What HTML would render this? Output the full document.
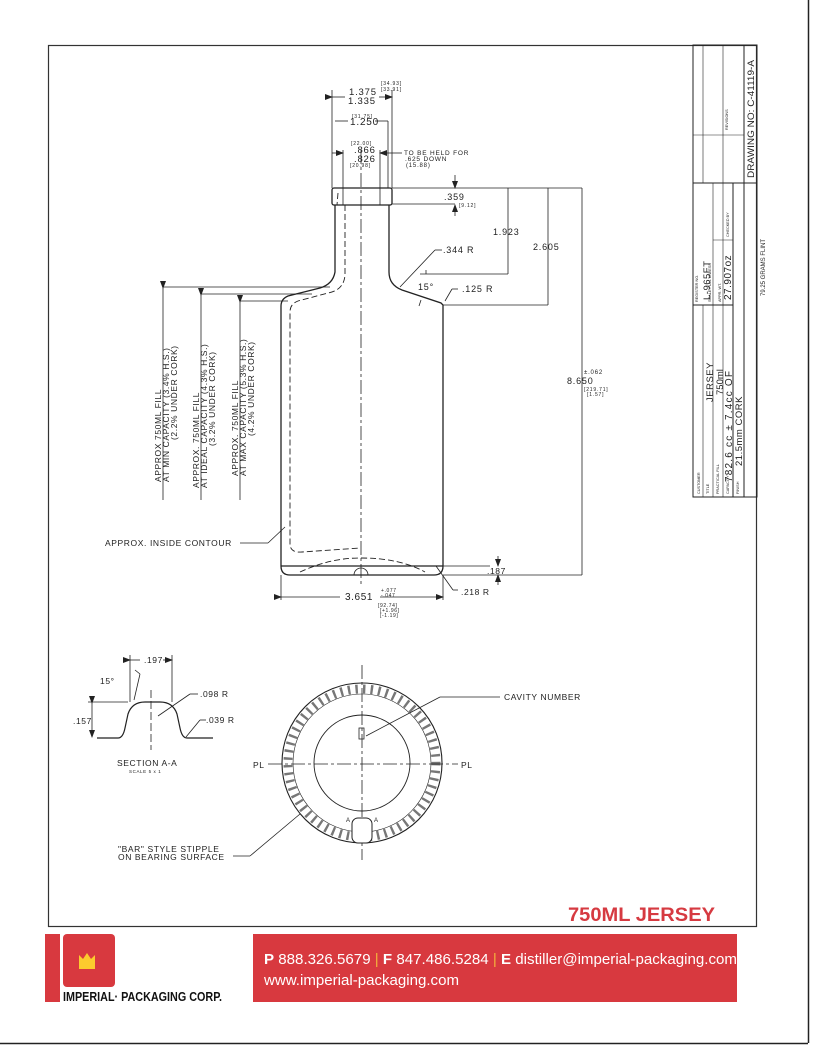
<!DOCTYPE html>
<html><head><meta charset="utf-8"><style>
html,body{margin:0;padding:0;background:#fff;}
body{width:813px;height:1047px;position:relative;overflow:hidden;font-family:"Liberation Sans",sans-serif;}
svg text{font-family:"Liberation Sans",sans-serif;fill:#222;}
</style></head><body>
<svg width="813" height="1047" viewBox="0 0 813 1047" xmlns="http://www.w3.org/2000/svg" style="position:absolute;left:0;top:0">
<defs>
<marker id="ar" markerWidth="8" markerHeight="6" refX="7" refY="3" orient="auto" markerUnits="userSpaceOnUse"><path d="M0,0 L8,3 L0,6 z" fill="#222"/></marker>
</defs>
<line x1="808.5" y1="0" x2="808.5" y2="1043" stroke="#222" stroke-width="1.5"/>
<line x1="0" y1="1043.5" x2="808" y2="1043.5" stroke="#222" stroke-width="1.5"/>
<rect x="48.5" y="45.5" width="708" height="881" fill="none" stroke="#333" stroke-width="1.2"/>

<!-- title block -->
<g stroke="#222" fill="none" stroke-width="1">
<rect x="693" y="45" width="64" height="452"/>
<line x1="744" y1="45" x2="744" y2="497"/>
<line x1="693" y1="183" x2="757" y2="183"/>
<line x1="693" y1="305" x2="733" y2="305"/>
<line x1="733" y1="183" x2="733" y2="497"/>
</g>
<g stroke="#222" fill="none" stroke-width=".6">
<line x1="703" y1="305" x2="703" y2="497"/>
<line x1="713" y1="183" x2="713" y2="497"/>
<line x1="723" y1="183" x2="723" y2="497"/>
<line x1="703" y1="45" x2="703" y2="183"/>
<line x1="723" y1="45" x2="723" y2="183"/>
<line x1="693" y1="135" x2="744" y2="135"/>
<line x1="713" y1="240" x2="733" y2="240"/>
</g>
<g font-size="3.8" fill="#333">
<text transform="translate(700,494) rotate(-90)">CUSTOMER</text>
<text transform="translate(709,494) rotate(-90)">TITLE</text>
<text transform="translate(719,494) rotate(-90)">PRACTICAL FILL</text>
<text transform="translate(729,494) rotate(-90)">CAPACITY</text>
<text transform="translate(739,494) rotate(-90)">FINISH</text>
<text transform="translate(698,302) rotate(-90)">REGISTER NO.</text>
<text transform="translate(711,302) rotate(-90)">SCALE FULL UNLESS</text>
<text transform="translate(721,302) rotate(-90)">APPR. WT.</text>
<text transform="translate(729,237) rotate(-90)">CHECKED BY</text>
<text transform="translate(728,130) rotate(-90)">REVISIONS</text>
</g>
<g fill="#333">
<text transform="translate(710,300) rotate(-90)" font-size="9.5" letter-spacing=".5">L-965FT</text>
<text transform="translate(731,300) rotate(-90)" font-size="10" letter-spacing=".5">27.907oz</text>
<text transform="translate(713,402) rotate(-90)" font-size="9.5" letter-spacing=".5">JERSEY</text>
<text transform="translate(723,395) rotate(-90)" font-size="9.5">750ml</text>
<text transform="translate(732,482) rotate(-90)" font-size="10" letter-spacing="1.2">782.6 cc ± 7.4cc OF</text>
<text transform="translate(742,466) rotate(-90)" font-size="9.5" letter-spacing=".5">21.5mm CORK</text>
<text transform="translate(754,178) rotate(-90)" font-size="9.5" textLength="118" lengthAdjust="spacingAndGlyphs">DRAWING NO: C-41119-A</text>
<text transform="translate(765,296) rotate(-90)" font-size="6">79.25 GRAMS FLINT</text>
</g>

<!-- bottle -->
<g stroke="#222" fill="none" stroke-width="1.3">
<rect x="332" y="188" width="60" height="17" rx="2"/>
<path d="M335,205 L335,272 Q333,284 320,288 L288,296 Q281,299 281,306 L281,566 Q281,575 290,575 L434,575 Q443,575 443,566 L443,305 L441,303 L402,290 Q389,285 389,272 L389,205"/>
<line x1="281" y1="566" x2="443" y2="566"/>
</g>
<g stroke="#222" fill="none" stroke-width=".9" stroke-dasharray="6,3">
<path d="M345,205 L345,275 Q344,290 328,293 L298,301 Q290,304 290,312 L290,545 Q291,553 302,552 L360,548"/>
<path d="M300,572 Q330,558 360,558 Q400,558 425,572"/>
<line x1="338" y1="193" x2="337" y2="205"/>
</g>
<line x1="361" y1="150" x2="361" y2="585" stroke="#222" stroke-width=".8" stroke-dasharray="14,3,3,3"/>
<path d="M354,575 A7,7 0 0 1 368,575" stroke="#222" fill="none" stroke-width=".8"/>

<g stroke="#222" stroke-width=".8" fill="none">
<line x1="332" y1="188" x2="332" y2="90"/><line x1="392" y1="188" x2="392" y2="90"/>
<line x1="332" y1="97" x2="345" y2="97" marker-start="url(#ar)"/>
<line x1="379" y1="97" x2="392" y2="97" marker-end="url(#ar)"/>
<line x1="388" y1="121" x2="388" y2="188"/>
<line x1="335" y1="121" x2="348" y2="121"/>
<line x1="375" y1="121" x2="388" y2="121"/>
<line x1="343" y1="150" x2="343" y2="205"/>
<line x1="380" y1="150" x2="380" y2="205"/>
<line x1="332" y1="153" x2="343" y2="153" marker-end="url(#ar)"/>
<line x1="392" y1="153" x2="380" y2="153" marker-end="url(#ar)"/>
<line x1="392" y1="153" x2="402" y2="153"/>
<line x1="392" y1="188" x2="582" y2="188"/>
<line x1="392" y1="204" x2="455" y2="204"/>
<line x1="455" y1="175" x2="455" y2="188" marker-end="url(#ar)"/>
<line x1="455" y1="216" x2="455" y2="205" marker-end="url(#ar)"/>
<line x1="508" y1="188" x2="508" y2="274"/>
<line x1="420" y1="274" x2="508" y2="274"/>
<line x1="548" y1="188" x2="548" y2="305"/>
<line x1="443" y1="305" x2="548" y2="305"/>
<line x1="582" y1="188" x2="582" y2="575"/>
<line x1="443" y1="575" x2="582" y2="575"/>
<line x1="400" y1="287" x2="435" y2="250"/><line x1="435" y1="250" x2="442" y2="250"/>
<line x1="445" y1="301" x2="452" y2="289"/><line x1="452" y1="289" x2="458" y2="289"/>
<line x1="426" y1="270" x2="426" y2="274"/>
<line x1="421" y1="300" x2="419" y2="306"/>
</g>
<g font-size="9" fill="#333" letter-spacing=".8">
<text x="349" y="95" font-size="9.5">1.375</text>
<text x="348" y="104" font-size="9.5">1.335</text>
<text x="381" y="85" font-size="5">[34.93]</text><text x="381" y="91" font-size="5">[33.91]</text>
<text x="352" y="118" font-size="5">[31.75]</text>
<text x="350" y="125" font-size="10">1.250</text>
<text x="351" y="145" font-size="5">[22.00]</text>
<text x="354" y="153" font-size="9.5">.866</text>
<text x="354" y="162" font-size="9.5">.826</text>
<text x="350" y="167" font-size="5">[20.98]</text>
<text x="404" y="155" font-size="6.5">TO BE HELD FOR</text>
<text x="405" y="161" font-size="6.5">.625 DOWN</text>
<text x="406" y="167" font-size="6">(15.88)</text>
<text x="444" y="200">.359</text>
<text x="459" y="207" font-size="5">[9.12]</text>
<text x="493" y="235">1.923</text>
<text x="533" y="250">2.605</text>
<text x="443" y="253">.344 R</text>
<text x="462" y="292">.125 R</text>
<text x="418" y="290">15°</text>
<text x="584" y="374" font-size="6">±.062</text>
<text x="567" y="384">8.650</text>
<text x="584" y="391" font-size="5">[219.71]</text>
<text x="587" y="396" font-size="5">[1.57]</text>
</g>

<g stroke="#222" stroke-width=".8" fill="none">
<line x1="163" y1="287" x2="330" y2="287"/>
<line x1="201" y1="294" x2="312" y2="294"/>
<line x1="240" y1="301" x2="288" y2="301"/>
<line x1="163" y1="288" x2="163" y2="500" marker-start="url(#ar)"/>
<line x1="201" y1="295" x2="201" y2="500" marker-start="url(#ar)"/>
<line x1="240" y1="302" x2="240" y2="500" marker-start="url(#ar)"/>
<line x1="240" y1="543" x2="268" y2="543"/><line x1="268" y1="543" x2="285" y2="527"/>
<line x1="281" y1="575" x2="281" y2="600"/><line x1="443" y1="575" x2="443" y2="600"/>
<line x1="281" y1="597" x2="340" y2="597" marker-start="url(#ar)"/>
<line x1="380" y1="597" x2="443" y2="597" marker-end="url(#ar)"/>
<line x1="443" y1="566" x2="490" y2="566"/>
<line x1="498" y1="556" x2="498" y2="566" marker-end="url(#ar)"/>
<line x1="498" y1="585" x2="498" y2="575" marker-end="url(#ar)"/>
<line x1="436" y1="566" x2="453" y2="590"/><line x1="453" y1="590" x2="458" y2="590"/>
</g>
<g font-size="8.5" fill="#333" letter-spacing=".6">
<text transform="translate(161,482) rotate(-90)">APPROX 750ML FILL</text>
<text transform="translate(169,482) rotate(-90)">AT MIN CAPACITY (3.4% H.S.)</text>
<text transform="translate(177,440) rotate(-90)">(2.2% UNDER CORK)</text>
<text transform="translate(199,488) rotate(-90)">APPROX. 750ML FILL</text>
<text transform="translate(207,488) rotate(-90)">AT IDEAL CAPACITY (4.3% H.S.)</text>
<text transform="translate(215,446) rotate(-90)">(3.2% UNDER CORK)</text>
<text transform="translate(238,476) rotate(-90)">APPROX. 750ML FILL</text>
<text transform="translate(246,476) rotate(-90)">AT MAX CAPACITY (5.3% H.S.)</text>
<text transform="translate(254,436) rotate(-90)">(4.2% UNDER CORK)</text>
<text x="105" y="546">APPROX. INSIDE CONTOUR</text>
<text x="345" y="600" font-size="10">3.651</text>
<text x="381" y="592" font-size="5">+.077</text><text x="381" y="597" font-size="5">-.047</text>
<text x="378" y="607" font-size="5">[92.74]</text><text x="380" y="612" font-size="5">[+1.96]</text><text x="380" y="617" font-size="5">[-1.19]</text>
<text x="487" y="574">.187</text>
<text x="461" y="595">.218 R</text>
</g>

<!-- section A-A -->
<g stroke="#222" fill="none" stroke-width="1.2">
<path d="M97,738 L118,738 Q123,738 125,728 L128,714 Q132,702 145,702 L160,702 Q173,702 177,714 L180,728 Q182,738 187,738 L213,738"/>
</g>
<g stroke="#222" stroke-width=".8" fill="none">
<line x1="151" y1="690" x2="151" y2="750" stroke-dasharray="8,3"/>
<line x1="88" y1="702" x2="128" y2="702"/>
<line x1="92" y1="703" x2="92" y2="737" marker-start="url(#ar)" marker-end="url(#ar)"/>
<line x1="130" y1="655" x2="130" y2="702"/><line x1="172" y1="655" x2="172" y2="702"/>
<line x1="130" y1="660" x2="140" y2="660" marker-start="url(#ar)"/>
<line x1="163" y1="660" x2="172" y2="660" marker-end="url(#ar)"/>
<line x1="135" y1="670" x2="140" y2="674"/><line x1="140" y1="674" x2="134" y2="700"/>
<line x1="158" y1="716" x2="190" y2="694"/><line x1="190" y1="694" x2="198" y2="694"/>
<line x1="186" y1="737" x2="200" y2="720"/><line x1="200" y1="720" x2="206" y2="720"/>
</g>
<g font-size="8.5" fill="#333" letter-spacing=".6">
<text x="100" y="684">15°</text>
<text x="144" y="663">.197</text>
<text x="200" y="697">.098 R</text>
<text x="206" y="723">.039 R</text>
<text x="73" y="724">.157</text>
<text x="117" y="766">SECTION A-A</text>
<text x="129" y="773" font-size="4.5">SCALE 5 x 1</text>
<text x="118" y="852">"BAR" STYLE STIPPLE</text>
<text x="118" y="860">ON BEARING SURFACE</text>
<text x="504" y="700">CAVITY NUMBER</text>
<text x="253" y="768">PL</text>
<text x="461" y="768">PL</text>
</g>

<g stroke="#222" fill="none">
<circle cx="362" cy="763" r="80" stroke-width="1.1"/>
<circle cx="362" cy="763" r="69" stroke-width=".6"/>
<circle cx="362" cy="763" r="48" stroke-width=".9"/>
<circle cx="362" cy="763" r="74" stroke="#777" stroke-width="9" stroke-dasharray="2.4,5.2"/>
<line x1="268" y1="764" x2="458" y2="764" stroke-width=".8" stroke-dasharray="14,3,3,3"/>
<line x1="362" y1="665" x2="362" y2="860" stroke-width=".8" stroke-dasharray="14,3,3,3"/>
<rect x="359" y="728" width="5" height="11" stroke-width=".8"/>
<rect x="352" y="818" width="20" height="25" rx="6" stroke-width="1" fill="#fff"/>
<line x1="366" y1="736" x2="440" y2="697" stroke-width=".8"/><line x1="440" y1="697" x2="500" y2="697" stroke-width=".8"/>
<line x1="233" y1="856" x2="250" y2="856" stroke-width=".8"/><line x1="250" y1="856" x2="300" y2="814" stroke-width=".8"/>
</g>
<text x="346" y="822" font-size="6">A</text><text x="374" y="822" font-size="6">A</text>

<text x="568" y="921" font-size="19" font-weight="bold" style="fill:#d63a41" textLength="147" lengthAdjust="spacingAndGlyphs">750ML JERSEY</text>

<!-- footer -->
<rect x="253" y="934" width="484" height="68" fill="#d8393f"/>
<rect x="45" y="934" width="15" height="68" fill="#d8393f"/>
<rect x="63" y="934" width="52" height="53" rx="4" fill="#d8393f"/>
<path d="M79,955 L83,959 L87,953 L91,959 L95,955 L95,969 L79,969 Z" fill="#fccb2e"/>
<text x="63" y="1001" font-size="12.5" font-weight="bold" style="fill:#111" textLength="159" lengthAdjust="spacingAndGlyphs">IMPERIAL· PACKAGING CORP.</text>
<text x="264" y="964" font-size="14.5" style="fill:#fff" textLength="473" lengthAdjust="spacingAndGlyphs"><tspan font-weight="bold">P</tspan> 888.326.5679 <tspan style="fill:#f3b13c">|</tspan> <tspan font-weight="bold">F</tspan> 847.486.5284 <tspan style="fill:#f3b13c">|</tspan> <tspan font-weight="bold">E</tspan> distiller@imperial-packaging.com</text>
<text x="264" y="985" font-size="14.5" style="fill:#fff" textLength="195" lengthAdjust="spacingAndGlyphs">www.imperial-packaging.com</text>
</svg>
</body></html>
